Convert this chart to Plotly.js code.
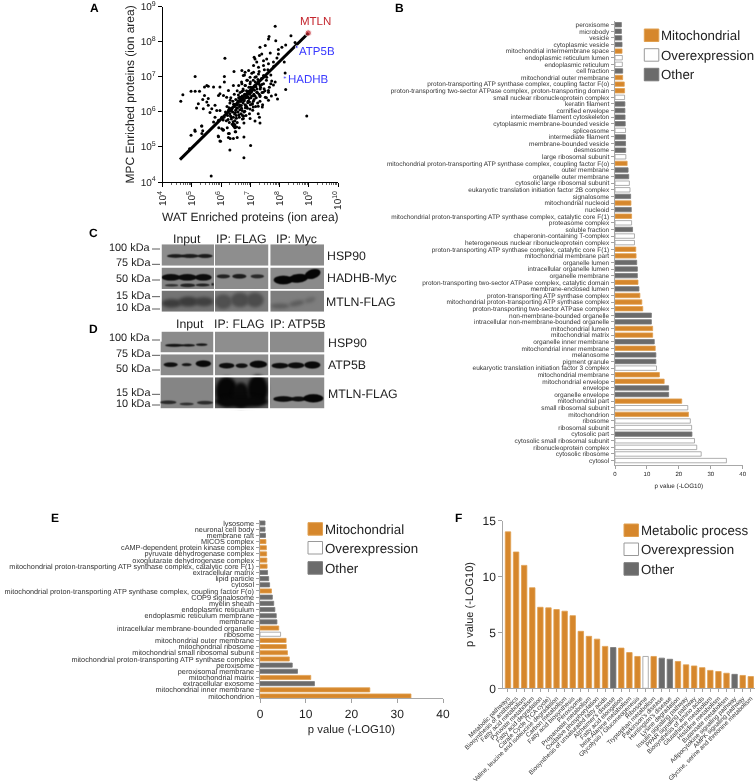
<!DOCTYPE html>
<html><head><meta charset="utf-8">
<script src="https://cdn.plot.ly/plotly-3.0.1.min.js"></script>
<style>html,body{margin:0;padding:0;background:#fff}#c{width:756px;height:784px;filter:blur(0.35px)}svg text{text-rendering:geometricPrecision}</style>
</head><body><div id="c"></div>
<script>
// ---------- Panel A: log10 ion areas ----------
const scatterLogX=[5.11,6.11,6.44,6.11,5.51,5.56,5.43,5.74,5.96,4.69,4.97,5.11,5.26,5.43,5.56,5.37,5.51,4.62,5.22,5.16,5.39,5.56,5.79,5.96,5.91,6.08,6.25,6.42,6.19,6.31,5.68,5.85,5.96,5.62,5.79,6.02,5.74,5.91,5.34,6.42,6.53,6.02,6.08,5.11,4.97,5.34,5.91,6.25,6.48,6.42,6.31,
7.85,8.39,7.64,7.62,7.87,7.51,7.33,8.21,8.08,7.96,8.53,7.68,7.39,7.31,7.13,7.96,7.91,7.56,7.45,7.22,7.16,7.79,7.62,7.45,7.11,7.28,8.19,8.16,6.71,6.82,6.94,7.11,7.28,6.76,6.99,7.16,7.45,7.56,7.73,7.85,7.70,7.79,8.21,7.33,7.47,7.62,7.22,6.88,6.71,6.82,6.99,7.11,6.76,6.94,7.33,7.51,7.93,
8.93,7.87,7.62,7.31,6.99,7.16,7.33,6.76,6.78,6.62,6.42,6.47,6.21,6.07,6.28,6.50,6.25,6.55,6.78,5.98,7.01,6.30,6.78,7.27,7.10,7.27,7.44,7.33,7.16,7.41,7.62,5.66,4.92,5.10,5.33,5.37,5.90,5.96,5.92,6.06,6.07,6.13,6.43,6.45,6.47,6.44,6.48,
6.10,6.15,6.18,6.20,6.22,6.25,6.28,6.30,6.30,6.33,6.35,6.35,6.38,6.40,6.40,6.42,6.45,6.45,6.47,6.50,6.50,6.52,6.55,6.55,6.55,6.58,6.60,6.60,6.62,6.63,6.65,6.67,6.68,6.70,6.70,6.72,6.73,6.75,6.75,6.78,6.80,6.80,6.82,6.83,6.85,6.85,6.87,6.90,6.90,6.92,6.95,6.95,6.97,7.00,7.00,7.02,7.05,7.05,7.08,7.10,7.10,7.12,7.15,7.18,7.20,7.20,7.23,7.25,7.27,7.30,7.30,7.33,7.35,7.38,7.40,7.42,7.45,7.48,7.50,7.55,7.55,7.60,7.65,7.70,7.72,7.80,
6.24,6.32,6.37,6.44,6.49,6.53,6.57,6.61,6.64,6.69,6.74,6.77,6.81,6.84,6.88,6.91,6.96,6.99,7.03,7.07,7.11,7.14,6.27,6.41,6.52,6.59,6.66,6.71,6.79,6.86,6.93,7.01,
6.36,6.46,6.56,6.63,6.68,6.73,6.79,6.84,6.89,6.94,6.98,7.04,7.09,7.13,7.19,7.24,7.29,7.34,7.39,6.34,6.43,6.51,6.58,6.65,6.72,6.76,6.83,6.88,6.92,6.97,7.02,7.06,7.17,7.26];
const scatterLogY=[7.01,7.01,7.15,6.85,6.75,6.73,6.71,6.71,6.71,6.49,6.59,6.59,6.59,6.47,6.38,6.35,6.28,6.30,6.23,6.11,6.09,6.19,6.19,6.52,6.47,6.47,6.61,6.75,6.42,6.33,6.09,6.04,6.04,5.98,5.85,5.85,5.71,5.76,5.60,5.62,5.57,5.52,5.48,5.45,5.33,5.38,5.29,5.38,5.43,5.24,5.24,
8.44,8.17,8.15,8.08,8.03,7.89,7.84,7.91,7.84,7.78,7.98,7.68,7.65,7.61,7.56,7.65,7.54,7.51,7.46,7.42,7.51,7.42,7.37,7.32,7.32,7.27,7.11,7.42,7.18,7.13,7.18,7.13,7.08,7.04,6.99,6.99,7.04,6.99,6.88,6.85,6.80,6.77,6.64,6.75,6.66,6.56,6.56,6.90,6.80,6.75,6.80,6.71,6.61,6.56,6.47,6.42,6.37,
5.88,6.49,6.33,5.85,5.81,5.74,5.68,5.81,5.68,5.55,5.62,5.55,5.55,5.49,5.38,5.43,5.27,5.27,5.28,5.16,5.04,4.91,4.69,5.95,6.14,6.16,6.56,6.44,6.45,6.14,6.61,4.17,4.95,5.48,5.60,5.46,5.31,5.17,5.55,5.48,5.77,7.53,5.60,5.58,5.63,5.65,5.57,
5.85,6.00,5.75,6.15,5.90,6.05,5.70,6.25,5.95,6.40,5.80,6.10,5.65,6.00,6.30,5.85,6.50,6.15,5.75,6.05,6.35,5.90,6.60,6.20,5.70,6.00,6.40,6.75,5.85,6.15,6.55,6.30,5.95,6.85,6.10,6.45,5.80,6.65,6.25,6.00,6.50,7.05,6.20,6.75,5.90,6.40,6.60,6.10,6.90,6.30,6.70,6.50,5.95,6.20,6.85,6.40,6.60,7.10,6.05,6.30,6.90,6.50,6.75,6.15,6.40,7.00,6.65,6.25,6.85,6.50,7.15,6.30,6.70,6.95,6.55,6.20,6.80,7.20,6.60,6.40,6.90,7.20,6.70,7.05,6.45,7.30,
5.78,5.88,6.08,6.22,5.98,6.12,6.28,5.92,6.06,6.18,6.34,5.88,6.02,6.44,6.14,6.26,6.38,6.08,6.56,6.24,6.46,6.62,6.12,5.72,5.82,6.48,6.36,6.58,6.32,6.16,6.42,6.56,
6.02,5.94,6.11,6.20,6.30,5.90,6.35,6.18,6.42,6.30,6.52,6.45,6.66,6.35,6.72,6.55,6.80,6.65,6.78,5.86,6.22,6.06,6.32,6.42,6.04,6.36,6.12,6.48,6.58,6.28,6.70,6.22,6.85,6.92];
const trendLogX=[4.59,8.99];
const trendLogY=[4.64,8.25];
const labelledProteins=["MTLN","ATP5B","HADHB"];
const labelledLogX=[8.98,8.59,8.18];
const labelledLogY=[8.25,7.85,6.98];
const decadeExponents=[4,5,6,7,8,9,10];

// ---------- Panel B ----------
const bTerms=["peroxisome","microbody","vesicle","cytoplasmic vesicle","mitochondrial intermembrane space","endoplasmic reticulum lumen","endoplasmic reticulum","cell fraction","mitochondrial outer membrane","proton-transporting ATP synthase complex, coupling factor F(o)","proton-transporting two-sector ATPase complex, proton-transporting domain","small nuclear ribonucleoprotein complex","keratin filament","cornified envelope","intermediate filament cytoskeleton","cytoplasmic membrane-bounded vesicle","spliceosome","intermediate filament","membrane-bounded vesicle","desmosome","large ribosomal subunit","mitochondrial proton-transporting ATP synthase complex, coupling factor F(o)","outer membrane","organelle outer membrane","cytosolic large ribosomal subunit","eukaryotic translation initiation factor 2B complex","signalosome","mitochondrial nucleoid","nucleoid","mitochondrial proton-transporting ATP synthase complex, catalytic core F(1)","proteasome complex","soluble fraction","chaperonin-containing T-complex","heterogeneous nuclear ribonucleoprotein complex","proton-transporting ATP synthase complex, catalytic core F(1)","mitochondrial membrane part","organelle lumen","intracellular organelle lumen","organelle membrane","proton-transporting two-sector ATPase complex, catalytic domain","membrane-enclosed lumen","proton-transporting ATP synthase complex","mitochondrial proton-transporting ATP synthase complex","proton-transporting two-sector ATPase complex","non-membrane-bounded organelle","intracellular non-membrane-bounded organelle","mitochondrial lumen","mitochondrial matrix","organelle inner membrane","mitochondrial inner membrane","melanosome","pigment granule","eukaryotic translation initiation factor 3 complex","mitochondrial membrane","mitochondrial envelope","envelope","organelle envelope","mitochondrial part","small ribosomal subunit","mitochondrion","ribosome","ribosomal subunit","cytosolic part","cytosolic small ribosomal subunit","ribonucleoprotein complex","cytosolic ribosome","cytosol"];
const bValues=[2.0,2.0,2.1,2.2,2.2,2.3,2.3,2.4,2.4,2.9,3.0,3.0,3.1,3.1,3.15,3.2,3.3,3.3,3.3,3.35,3.4,3.8,4.1,4.3,4.5,4.7,4.9,5.0,5.1,5.2,5.2,5.5,6.1,6.1,6.5,6.6,6.8,7.0,7.0,7.2,7.5,7.8,8.4,8.7,11.4,11.4,11.8,11.8,12.3,12.6,12.8,12.8,13.0,13.9,15.4,16.8,16.8,20.9,22.8,23.0,23.6,24.0,24.1,24.9,25.6,27.0,34.9];
const bGroups="GGGGMOOGMMMOGGGGOGGGOMGGOOGMGMOGOOMMGGGMGMMMGGMMGMGGOMMGGMOMOOGOOOO".split("");

// ---------- Panel E ----------
const eTerms=["lysosome","neuronal cell body","membrane raft","MICOS complex","cAMP-dependent protein kinase complex","pyruvate dehydrogenase complex","oxoglutarate dehydrogenase complex","mitochondrial proton-transporting ATP synthase complex, catalytic core F(1)","extracellular matrix","lipid particle","cytosol","mitochondrial proton-transporting ATP synthase complex, coupling factor F(o)","COP9 signalosome","myelin sheath","endoplasmic reticulum","endoplasmic reticulum membrane","membrane","intracellular membrane-bounded organelle","ribosome","mitochondrial outer membrane","mitochondrial ribosome","mitochondrial small ribosomal subunit","mitochondrial proton-transporting ATP synthase complex","peroxisome","peroxisomal membrane","mitochondrial matrix","extracellular exosome","mitochondrial inner membrane","mitochondrion"];
const eValues=[1.1,1.1,1.2,1.3,1.4,1.45,1.5,1.55,1.65,1.9,2.1,2.5,2.7,3.0,3.25,3.55,3.7,4.1,4.5,5.7,5.75,6.0,6.4,7.05,8.2,11.1,11.9,24.0,33.0];
const eGroups="GGGMMMMMGGGMGGGGGMOMMMMGGMGMM".split("");

// ---------- Panel F ----------
const fTerms=["Metabolic pathways","Biosynthesis of antibiotics","Fatty acid metabolism","Pyruvate metabolism","Fatty acid degradation","Citrate Cycle (TCA cycle)","Valine, leucine and isoleucine degradation","Carbon metabolism","Fatty acid biosynthesis","Peroxisome","Propanoate metabolism","Oxidative phosphorylation","Biosynthesis of unsaturated fatty acids","Alzheimer's disease","Fatty acid elongation","beta-Alanine metabolism","Glycolysis / Gluconeogenesis","Ribosome","Tryptophan metabolism","Parkinson's disease","Huntington's disease","Lysine degradation","Insulin signaling pathway","PPAR signaling pathway","Biosynthesis of amino acids","Glutathione metabolism","Histidine metabolism","Butanoate metabolism","Adipocytokine signaling pathway","AMPK signaling pathway","Glycine, serine and threonine metabolism"];
const fValues=[14,12.2,11,9,7.25,7.2,7.05,6.9,6.5,5.1,4.65,4.4,3.75,3.65,3.6,3.2,2.85,2.85,2.85,2.7,2.6,2.4,2.1,2.0,1.85,1.6,1.5,1.35,1.25,1.15,1.05];
const fGroups="MMMMMMMMMMMMMGMMMOMGGMMMMMMMGMM".split("");

const ORANGE="#D6872C",GREY="#6B6B6B",OUT="#9A9A9A";
const fill=g=>g==="M"?ORANGE:g==="O"?"#FFFFFF":GREY;
const edge=g=>g==="O"?OUT:(g==="M"?"#E0A050":"#7A7A7A");
const W=756,H=784,FONT="Liberation Sans, Arial, sans-serif",TXT="#222";
const px=x=>x/W, py=y=>1-y/H;

function hbar(terms,vals,groups,xa,ya){
  return {type:"bar",orientation:"h",y:terms,x:vals,xaxis:xa,yaxis:ya,
    marker:{color:groups.map(fill),line:{color:groups.map(edge),width:0.8}},hoverinfo:"x+y",showlegend:false};
}
const traces=[
 {type:"scatter",mode:"markers",x:scatterLogX.map(v=>Math.pow(10,v)),y:scatterLogY.map(v=>Math.pow(10,v)),xaxis:"x",yaxis:"y",
  marker:{color:"#000",size:3.0},showlegend:false},
 {type:"scatter",mode:"lines",x:trendLogX.map(v=>Math.pow(10,v)),y:trendLogY.map(v=>Math.pow(10,v)),xaxis:"x",yaxis:"y",
  line:{color:"#000",width:3},showlegend:false},
 {type:"scatter",mode:"markers",x:labelledLogX.map(v=>Math.pow(10,v)),y:labelledLogY.map(v=>Math.pow(10,v)),xaxis:"x",yaxis:"y",text:labelledProteins,
  marker:{color:["#C4262E","#2A2AFF","#2A2AFF"],size:[6.5,3,3]},showlegend:false},
 hbar(bTerms,bValues,bGroups,"x2","y2"),
 hbar(eTerms,eValues,eGroups,"x3","y3"),
 {type:"bar",x:fTerms,y:fValues,xaxis:"x4",yaxis:"y4",
  marker:{color:fGroups.map(fill),line:{color:fGroups.map(edge),width:0.8}},showlegend:false}
];

const decTicks=decadeExponents.map(e=>Math.pow(10,e));
const decText=decadeExponents.map(e=>"10<sup>"+e+"</sup>");
const minorVals=[];decadeExponents.slice(0,-1).forEach(e=>{[2,3,4,5,6,7,8,9].forEach(m=>minorVals.push(m*Math.pow(10,e)));});

const ann=[];
function T(text,x,y,size,anchor,color,extra){
  ann.push(Object.assign({xref:"paper",yref:"paper",x:px(x),y:py(y),text:text,showarrow:false,xanchor:anchor||"left",yanchor:"middle",
    font:{family:FONT,size:size,color:color||TXT},borderpad:0,borderwidth:0},extra||{}));
}
const shapes=[];
function swatch(x,y,h,g){
  shapes.push({type:"rect",xref:"paper",yref:"paper",x0:px(x),x1:px(x+14.5),y0:py(y+h),y1:py(y),
    fillcolor:fill(g),line:{color:g==="O"?OUT:edge(g),width:1}});
}
function legend(x,ys,labels){
  ["M","O","G"].forEach((g,i)=>{swatch(x,ys[i],12.5,g);T(labels[i],x+16.5,ys[i]+6.5,13.3,"left","#222");});
}
legend(644.3,[29,48.7,68.3],["Mitochondrial","Overexpression","Other"]);
legend(308,[522.7,541.5,561.7],["Mitochondrial","Overexpression","Other"]);
legend(624,[524,543,562.7],["Metabolic process","Overexpression","Other"]);

// panel letters
[["A",94,8],["B",399,8],["C",93,233],["D",93,329],["E",55,518],["F",458,518]].forEach(a=>T("<b>"+a[0]+"</b>",a[1],a[2],12,"center","#000"));
// panel A labels
T("MTLN",315,22,11.5,"center","#C4262E");
T("ATP5B",299,52,11.5,"left","#3A3AFF");
T("HADHB",288,80,11.5,"left","#3A3AFF");

// Blot annotation
const zx=x=>60+x/3, zy=y=>200+y/3;
const blotText=[["100 kDa",143],["75 kDa",190],["50 kDa",237],["15 kDa",287],["10 kDa",325],["100 kDa",415],["75 kDa",462],["50 kDa",507],["15 kDa",580],["10 kDa",612]];
blotText.forEach(b=>T(b[0],zx(274),zy(b[1]),10.9,"right","#222"));
[147,193,240,290,327,420,466,510,583,615].forEach(t=>{
  shapes.push({type:"line",xref:"paper",yref:"paper",x0:px(zx(276)),x1:px(zx(300)),y0:py(zy(t)),y1:py(zy(t)),line:{color:"#333",width:0.8}});
});
[["Input",380,118],["IP: FLAG",545,118],["IP: Myc",708,118],["Input",390,373],["IP: FLAG",537,373],["IP: ATP5B",715,373]].forEach(b=>T(b[0],zx(b[1]),zy(b[2]),12.3,"center","#222"));
[["HSP90",800,168],["HADHB-Myc",800,234],["MTLN-FLAG",798,307],["HSP90",803,430],["ATP5B",803,494],["MTLN-FLAG",803,582]].forEach(b=>T(b[0],zx(b[1]),zy(b[2]),12.3,"left","#222"));

// Western-blot photographs: painted to a picture and placed as a layout image
function blotImage(){
  const cv=document.createElement("canvas");cv.width=W*2;cv.height=H*2;
  const c=cv.getContext("2d");c.scale(2,2);
  const panels=[
   [[305,462],[133,197],"#8D8D8D"],[[465,625],[133,197],"#8E8E8E"],[[631,792],[133,197],"#8B8B8B"],
   [[305,462],[203,267],"#858585"],[[465,625],[203,267],"#8C8C8C"],[[631,792],[203,267],"#8A8A8A"],
   [[305,462],[272,335],"#747474"],[[465,625],[272,335],"#7A7A7A"],[[631,792],[272,335],"#7E7E7E"],
   [[302,460],[395,457],"#8B8B8B"],[[465,625],[395,457],"#8E8E8E"],[[630,793],[395,457],"#8C8C8C"],
   [[302,460],[463,526],"#8A8A8A"],[[465,625],[463,526],"#8C8C8C"],[[630,793],[463,526],"#8E8E8E"],
   [[302,460],[532,625],"#858585"],[[465,625],[532,625],"#5A5A5A"],[[630,793],[532,625],"#8C8C8C"]];
  panels.forEach(p=>{c.fillStyle=p[2];c.fillRect(zx(p[0][0]),zy(p[1][0]),(p[0][1]-p[0][0])/3,(p[1][1]-p[1][0])/3);});
  const sharp=[
   [347,168,52,11,"#1c1c1c",0],[390,168,52,12,"#1c1c1c",0],[435,168,45,12,"#1c1c1c",0],
   [333,232,56,20,"#0c0c0c",0],[382,232,56,20,"#0c0c0c",0],[430,232,50,20,"#0c0c0c",0],
   [335,256,40,8,"#333",0],[383,256,45,11,"#222",0],[428,255,42,9,"#222",0],[458,253,8,8,"#222",0],
   [490,229,40,12,"#222",0],[538,229,42,14,"#1c1c1c",0],[592,229,40,12,"#2a2a2a",0],
   [670,240,58,26,"#050505",0],[715,235,58,26,"#050505",-0.1],[758,222,48,28,"#050505",-0.3],
   [343,436,55,9,"#141414",0],[385,436,40,8,"#181818",0],[425,434,35,8,"#181818",0],
   [332,494,42,14,"#0e0e0e",0],[380,494,30,9,"#141414",0],[430,491,46,20,"#080808",0],
   [500,497,46,17,"#0c0c0c",0],[545,497,36,14,"#101010",0],[595,493,52,22,"#080808",0],
   [660,497,50,17,"#0c0c0c",0],[708,496,50,18,"#0c0c0c",0],[757,495,48,22,"#080808",0],
   [325,607,48,11,"#2a2a2a",0],[380,612,42,8,"#303030",0],[435,608,48,11,"#2c2c2c",0],
   [670,597,60,17,"#0c0c0c",0],[715,597,45,15,"#101010",0],[760,595,60,25,"#060606",0]];
  const smear=[
   [335,310,60,26,"#3c3c3c",0],[385,305,60,30,"#3c3c3c",0],[432,305,56,28,"#404040",0],
   [490,305,52,44,"#505050",0],[540,300,56,44,"#4c4c4c",0],[585,300,52,44,"#4c4c4c",0],
   [660,318,56,16,"#5c5c5c",0],[710,310,46,16,"#5c5c5c",-0.2],[750,300,34,16,"#666",-0.3],
   [500,575,66,90,"#060606",0],[543,585,48,76,"#0a0a0a",0],[593,570,62,90,"#060606",0],[545,605,160,34,"#080808",0]];
  const ell=b=>{c.fillStyle=b[4];c.beginPath();c.ellipse(zx(b[0]),zy(b[1]),b[2]/6,b[3]/6,b[5],0,Math.PI*2);c.fill();};
  c.filter="blur(3px)";smear.forEach(ell);
  c.filter="blur(1px)";sharp.forEach(ell);
  c.filter="none";
  // keep the white gaps between panels clean
  c.fillStyle="#fff";
  [[462,465],[625,631]].forEach(g=>c.fillRect(zx(g[0]),zy(130),(g[1]-g[0])/3,(340-130)/3));
  [[460,465],[625,630]].forEach(g=>c.fillRect(zx(g[0]),zy(392),(g[1]-g[0])/3,(628-392)/3));
  [[197,203],[267,272],[457,463],[526,532]].forEach(g=>c.fillRect(zx(295),zy(g[0]),(800-295)/3,(g[1]-g[0])/3));
  [[129,133],[335,340],[390,395],[625,630]].forEach(g=>c.fillRect(zx(295),zy(g[0]),(800-295)/3,(g[1]-g[0])/3));
  c.fillRect(zx(792),zy(125),6,90);c.fillRect(zx(793),zy(385),6,90);c.fillRect(zx(295),zy(125),zx(305)-zx(295),100);
  return cv.toDataURL("image/png");
}

const grayAxis={showgrid:false,zeroline:false,showline:true,linecolor:"#A8A8A8",linewidth:1,ticks:"outside",tickcolor:"#8A8A8A",tickwidth:0.8,automargin:false,
  tickfont:{family:FONT,color:TXT}};
const layout={
  width:W,height:H,margin:{l:0,r:0,t:0,b:0,pad:0},paper_bgcolor:"rgba(0,0,0,0)",plot_bgcolor:"rgba(0,0,0,0)",showlegend:false,
  font:{family:FONT,color:TXT},bargap:0.33,annotations:ann,shapes:shapes,hovermode:false,
  images:[{source:blotImage(),xref:"paper",yref:"paper",x:0,y:1,sizex:1,sizey:1,xanchor:"left",yanchor:"top",sizing:"stretch",layer:"below"}],
  // Panel A
  xaxis:{domain:[px(162.7),px(338)],anchor:"y",type:"log",range:[4,10],tickvals:decTicks,ticktext:decText,tickangle:-90,tickfont:{family:FONT,size:10,color:TXT},
    showgrid:false,zeroline:false,showline:true,linecolor:"#000",linewidth:1,ticks:"outside",ticklen:4,tickcolor:"#000",
    minor:{tickvals:minorVals,ticks:"outside",ticklen:2,tickcolor:"#000",tickwidth:0.6,showgrid:false},
    title:{text:"WAT Enriched proteins (ion area)",font:{family:FONT,size:12,color:TXT},standoff:0}},
  yaxis:{domain:[py(182),py(6.7)],anchor:"x",type:"log",range:[4,9],tickvals:decTicks,ticktext:decText,tickfont:{family:FONT,size:10,color:TXT},
    showgrid:false,zeroline:false,showline:true,linecolor:"#000",linewidth:1,ticks:"outside",ticklen:4,tickcolor:"#000",
    title:{text:"MPC Enriched proteins (ion area)",font:{family:FONT,size:12,color:TXT},standoff:3}},
  // Panel B
  xaxis2:Object.assign({},grayAxis,{domain:[px(615),px(742.7)],anchor:"y2",range:[0,40],tickvals:[0,10,20,30,40],ticklen:3,tickfont:{family:FONT,size:6,color:TXT},
    title:{text:"p value (-LOG10)",font:{family:FONT,size:6.3,color:TXT},standoff:6}}),
  yaxis2:Object.assign({},grayAxis,{domain:[py(465),py(21.4)],anchor:"x2",type:"category",categoryorder:"array",categoryarray:bTerms,range:[66.67,-0.5],
    tickmode:"array",tickvals:bTerms,ticktext:bTerms,ticklen:3.5,tickfont:{family:FONT,size:6.5,color:"#333"}}),
  // Panel E
  xaxis3:Object.assign({},grayAxis,{domain:[px(260),px(443)],anchor:"y3",range:[0,40],tickvals:[0,10,20,30,40],ticklen:4,tickfont:{family:FONT,size:12,color:TXT},
    title:{text:"p value (-LOG10)",font:{family:FONT,size:11.3,color:TXT},standoff:5}}),
  yaxis3:Object.assign({},grayAxis,{domain:[py(698.3),py(520)],anchor:"x3",type:"category",categoryorder:"array",categoryarray:eTerms,range:[28.37,-0.49],
    tickmode:"array",tickvals:eTerms,ticktext:eTerms,ticklen:3.5,tickfont:{family:FONT,size:7.3,color:"#333"}}),
  // Panel F
  xaxis4:Object.assign({},grayAxis,{domain:[px(503.3),px(755)],anchor:"y4",type:"category",categoryorder:"array",categoryarray:fTerms,range:[-0.58,30.52],
    tickmode:"array",tickvals:fTerms,ticktext:fTerms,tickangle:-45,ticklen:3,tickfont:{family:FONT,size:6.3,color:"#333"}}),
  yaxis4:Object.assign({},grayAxis,{domain:[py(688.3),py(520.7)],anchor:"x4",range:[0,15],tickvals:[0,5,10,15],ticklen:4,tickfont:{family:FONT,size:12,color:TXT},
    title:{text:"p value (-LOG10)",font:{family:FONT,size:11,color:TXT},standoff:6}})
};
Plotly.newPlot("c",traces,layout,{displayModeBar:false,staticPlot:true});
</script></body></html>
